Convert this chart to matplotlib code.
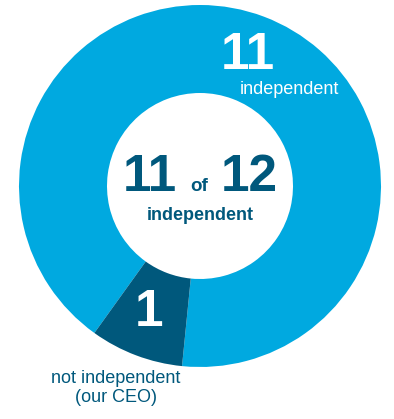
import matplotlib
matplotlib.use("Agg")
import matplotlib.pyplot as plt

# Board composition
categories = ["independent", "not independent"]
counts = [11, 1]
colors = ["#00A9E0", "#00587C"]
sub_labels = ["independent", "not independent\n(our CEO)"]

W, H = 394, 419
plt.rcParams["font.family"] = ["Liberation Sans", "DejaVu Sans"]

fig = plt.figure(figsize=(W / 100, H / 100), dpi=100)
ax = fig.add_axes([0, 0, 1, 1])

cx, cy = 200, H - 186
outer_r = 181
inner_r = 93

ax.pie(counts, colors=colors, startangle=264.3, counterclock=True,
       radius=outer_r, center=(cx, cy),
       wedgeprops=dict(width=outer_r - inner_r, linewidth=0))

ax.set_xlim(0, W)
ax.set_ylim(0, H)
ax.set_aspect("equal")
ax.axis("off")

dark = "#00587C"
total = sum(counts)

# Center summary
ax.text(150, H - 191, f"{counts[0]}", ha="center", va="baseline",
        fontsize=37, fontweight="bold", color=dark)
ax.text(199, H - 191, "of", ha="center", va="baseline",
        fontsize=13.5, fontweight="bold", color=dark)
ax.text(249, H - 191, f"{total}", ha="center", va="baseline",
        fontsize=37, fontweight="bold", color=dark)
ax.text(200, H - 215, "independent", ha="center", va="center",
        fontsize=13, fontweight="bold", color=dark)

# Segment labels
ax.text(248, H - 55, f"{counts[0]}", ha="center", va="center",
        fontsize=37, fontweight="bold", color="white")
ax.text(289, H - 89, sub_labels[0], ha="center", va="center",
        fontsize=13, color="white")
ax.text(149, H - 312, f"{counts[1]}", ha="center", va="center",
        fontsize=37, fontweight="bold", color="white")
ax.text(116, H - 388, sub_labels[1], ha="center", va="center",
        fontsize=13, color=dark, linespacing=1.15)

fig.savefig("out.png", dpi=100)
